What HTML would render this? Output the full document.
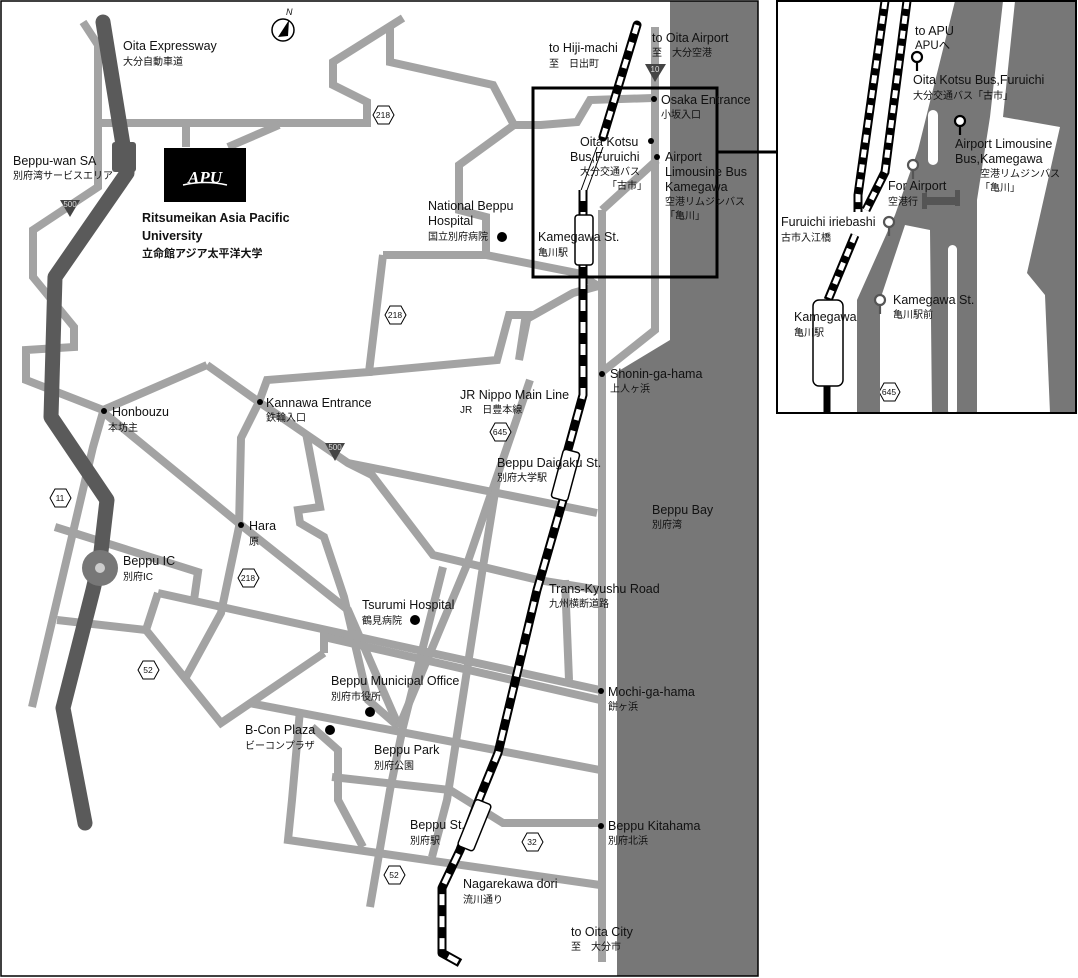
<!DOCTYPE html>
<html><head><meta charset="utf-8"><style>
html,body{margin:0;padding:0;background:#fff;}
svg{display:block;}
text{font-family:"Liberation Sans","Noto Sans CJK JP",sans-serif;fill:#111;}
.e{font-size:12.5px;}
.j{font-size:10px;}
</style></head><body>
<svg width="1078" height="978" viewBox="0 0 1078 978" xmlns="http://www.w3.org/2000/svg">
<rect width="1078" height="978" fill="#fff"/>
<polygon points="670,1 758,1 758,976 617,976 617,372 670,340" fill="#777"/>
<g fill="none" stroke="#a3a3a3" stroke-width="8" stroke-linejoin="miter">
<polyline points="83,22 98,45 98,187 33,230 33,277 74,327 74,347 26,350 26,380 103,410"/>
<polyline points="100,123 367,123 367,102 333,85 333,62 403,18"/>
<polyline points="186,123 186,147"/>
<polyline points="279,125 228,147"/>
<polyline points="390,27 390,62 493,85 514,125 541,125 577,122 590,100 653,98"/>
<polyline points="514,125 459,165 459,210 486,217 486,255"/>
<polyline points="383,255 486,255 577,273 600,287"/>
<polyline points="383,255 369,372 267,380 259,402 241,438 239,527 221,613 186,677"/>
<polyline points="369,372 497,360 509,315 528,315 519,360 525,320 573,293 602,285"/>
<polyline points="207,365 103,410"/>
<polyline points="207,365 259,402 348,463 372,475 433,555 538,580 600,590"/>
<polyline points="348,463 597,513"/>
<polyline points="103,412 241,525 348,610 399,727"/>
<polyline points="103,412 93,447 32,707"/>
<polyline points="306,433 320,507 298,510 300,523 324,537 344,597 368,700 399,727"/>
<polyline points="530,380 466,567 399,727"/>
<polyline points="497,480 482,573 447,800 432,857"/>
<polyline points="443,567 403,727 390,790 370,907"/>
<polyline points="565,580 569,680"/>
<polyline points="55,527 198,572 194,600"/>
<polyline points="158,593 600,690"/>
<polyline points="57,620 146,630 158,593"/>
<polyline points="146,630 221,723 324,653"/>
<polyline points="324,653 324,637 600,700"/>
<polyline points="249,703 600,770"/>
<polyline points="312,727 338,750 338,800 363,847"/>
<polyline points="300,710 292,800 288,840 600,885"/>
<polyline points="332,777 450,790 503,823 600,823"/>
<polyline points="602,210 602,962"/>
<polyline points="602,210 657,160"/>
<polyline points="655,27 655,330 602,372"/>
</g>
<g fill="none" stroke="#5a5a5a" stroke-width="15" stroke-linecap="round" stroke-linejoin="round">
<polyline points="103,22 123,145 127,173 55,277 51,417 107,500 100,560 93,590 63,708 85,823"/>
</g>
<rect x="112" y="142" width="24" height="30" fill="#5a5a5a" rx="3"/>
<circle cx="100" cy="568" r="18" fill="#777"/>
<circle cx="100" cy="568" r="5" fill="#ccc"/>
<g fill="none" stroke-linejoin="round">
<polyline points="637,25 603,137" stroke="#000" stroke-width="9" stroke-linecap="round"/>
<polyline points="637,25 603,137" stroke="#fff" stroke-width="5" stroke-dasharray="9 9"/>
<polyline points="597,147 580,193" stroke="#000" stroke-width="1"/>
<polyline points="603,147 586,193" stroke="#000" stroke-width="1"/>
<polyline points="583,190 583,395 567,453 563,500 537,590 498,753 480,797 460,850 442,888 442,953 460,963" stroke="#000" stroke-width="9"/>
<polyline points="583,190 583,395 567,453 563,500 537,590 498,753 480,797 460,850 442,888 442,953 460,963" stroke="#fff" stroke-width="5" stroke-dasharray="11 11"/>
</g>
<rect x="575" y="215" width="18" height="50" rx="3" fill="#fff" stroke="#000" stroke-width="1.5"/>
<rect x="557" y="450" width="17" height="50" rx="3" fill="#fff" stroke="#000" stroke-width="1.5" transform="rotate(15 565 475)"/>
<rect x="466" y="800" width="17" height="50" rx="3" fill="#fff" stroke="#000" stroke-width="1.5" transform="rotate(22 474 825)"/>
<rect x="533" y="88" width="184" height="189" fill="none" stroke="#000" stroke-width="3"/>
<line x1="717" y1="152" x2="777" y2="152" stroke="#000" stroke-width="3"/>
<rect x="1" y="1" width="757" height="975" fill="none" stroke="#000" stroke-width="1.5"/>
<rect x="164" y="148" width="82" height="54" fill="#000"/>
<text x="205" y="183" text-anchor="middle" style="font-size:17px;font-weight:bold;font-style:italic;fill:#fff;font-family:'Liberation Serif',serif;">APU</text>
<path d="M183 185 Q205 180 227 185" stroke="#fff" stroke-width="1.5" fill="none"/>
<circle cx="283" cy="30" r="11" fill="#fff" stroke="#000" stroke-width="1.5"/>
<polygon points="289,20 278,37 288,36" fill="#000"/>
<text x="286" y="15" style="font-size:9px;font-style:italic;">N</text>
<g fill="#fff" stroke="#000" stroke-width="1">
<polygon points="373,115 378,106 389,106 394,115 389,124 378,124"/>
<polygon points="385,315 390,306 401,306 406,315 401,324 390,324"/>
<polygon points="490,432 495,423 506,423 511,432 506,441 495,441"/>
<polygon points="50,498 55,489 66,489 71,498 66,507 55,507"/>
<polygon points="238,578 243,569 254,569 259,578 254,587 243,587"/>
<polygon points="138,670 143,661 154,661 159,670 154,679 143,679"/>
<polygon points="384,875 389,866 400,866 405,875 400,884 389,884"/>
<polygon points="522,842 527,833 538,833 543,842 538,851 527,851"/>
<polygon points="879,392 884,383 895,383 900,392 895,401 884,401"/>
</g>
<g style="font-size:8.5px;" text-anchor="middle">
<text x="383" y="118">218</text><text x="395" y="318">218</text><text x="500" y="435">645</text>
<text x="60" y="501">11</text><text x="248" y="581">218</text><text x="148" y="673">52</text>
<text x="394" y="878">52</text><text x="532" y="845">32</text><text x="889" y="395">645</text>
</g>
<g fill="#444">
<polygon points="60,200 80,200 70,217"/><polygon points="325,443 345,443 335,461"/><polygon points="645,64 666,64 655,82"/>
</g>
<g style="font-size:8px;" text-anchor="middle"><text x="70" y="207" style="fill:#ddd">500</text><text x="335" y="450" style="fill:#ddd">500</text><text x="655" y="72" style="fill:#ddd">10</text></g>
<g fill="#000">
<circle cx="502" cy="237" r="5"/><circle cx="415" cy="620" r="5"/><circle cx="370" cy="712" r="5"/><circle cx="330" cy="730" r="5"/>
<circle cx="104" cy="411" r="3"/><circle cx="260" cy="402" r="3"/><circle cx="241" cy="525" r="3"/>
<circle cx="654" cy="99" r="3"/><circle cx="651" cy="141" r="3"/><circle cx="657" cy="157" r="3"/>
<circle cx="602" cy="374" r="3"/><circle cx="601" cy="691" r="3"/><circle cx="601" cy="826" r="3"/>
</g>
<text class="e" x="123" y="50">Oita Expressway</text><text class="j" x="123" y="65">大分自動車道</text>
<text class="e" x="13" y="165">Beppu-wan SA</text><text class="j" x="13" y="179">別府湾サービスエリア</text>
<text class="e" x="142" y="222" style="font-weight:bold">Ritsumeikan Asia Pacific</text>
<text class="e" x="142" y="240" style="font-weight:bold">University</text>
<text class="j" x="142" y="257" style="font-weight:bold;font-size:11px">立命館アジア太平洋大学</text>
<text class="e" x="428" y="210">National Beppu</text><text class="e" x="428" y="225">Hospital</text><text class="j" x="428" y="240">国立別府病院</text>
<text class="e" x="549" y="52">to Hiji-machi</text><text class="j" x="549" y="67">至　日出町</text>
<text class="e" x="652" y="42">to Oita Airport</text><text class="j" x="652" y="56">至　大分空港</text>
<text class="e" x="661" y="104">Osaka Entrance</text><text class="j" x="661" y="118">小坂入口</text>
<text class="e" x="580" y="146">Oita Kotsu</text><text class="e" x="570" y="161">Bus,Furuichi</text>
<text class="j" x="580" y="175">大分交通バス</text><text class="j" x="607" y="189">「古市」</text>
<text class="e" x="665" y="161">Airport</text><text class="e" x="665" y="176">Limousine Bus</text><text class="e" x="665" y="191">Kamegawa</text>
<text class="j" x="665" y="205">空港リムジンバス</text><text class="j" x="665" y="219">「亀川」</text>
<text class="e" x="538" y="241">Kamegawa St.</text><text class="j" x="538" y="256">亀川駅</text>
<text class="e" x="610" y="378">Shonin-ga-hama</text><text class="j" x="610" y="392">上人ヶ浜</text>
<text class="e" x="460" y="399">JR Nippo Main Line</text><text class="j" x="460" y="413">JR　日豊本線</text>
<text class="e" x="112" y="416">Honbouzu</text><text class="j" x="108" y="431">本坊主</text>
<text class="e" x="266" y="407">Kannawa Entrance</text><text class="j" x="266" y="421">鉄輪入口</text>
<text class="e" x="497" y="467">Beppu Daigaku St.</text><text class="j" x="497" y="481">別府大学駅</text>
<text class="e" x="652" y="514">Beppu Bay</text><text class="j" x="652" y="528">別府湾</text>
<text class="e" x="249" y="530">Hara</text><text class="j" x="249" y="545">原</text>
<text class="e" x="123" y="565">Beppu IC</text><text class="j" x="123" y="580">別府IC</text>
<text class="e" x="549" y="593">Trans-Kyushu Road</text><text class="j" x="549" y="607">九州横断道路</text>
<text class="e" x="362" y="609">Tsurumi Hospital</text><text class="j" x="362" y="624">鶴見病院</text>
<text class="e" x="331" y="685">Beppu Municipal Office</text><text class="j" x="331" y="700">別府市役所</text>
<text class="e" x="608" y="696">Mochi-ga-hama</text><text class="j" x="608" y="710">餅ヶ浜</text>
<text class="e" x="245" y="734">B-Con Plaza</text><text class="j" x="245" y="749">ビーコンプラザ</text>
<text class="e" x="374" y="754">Beppu Park</text><text class="j" x="374" y="769">別府公園</text>
<text class="e" x="410" y="829">Beppu St.</text><text class="j" x="410" y="844">別府駅</text>
<text class="e" x="608" y="830">Beppu Kitahama</text><text class="j" x="608" y="844">別府北浜</text>
<text class="e" x="463" y="888">Nagarekawa dori</text><text class="j" x="463" y="903">流川通り</text>
<text class="e" x="571" y="936">to Oita City</text><text class="j" x="571" y="950">至　大分市</text>
<g>
<polygon points="1015,1 1076,1 1076,413 1050,413 1045,295 1027,273 1060,127 1003,117" fill="#777"/>
<polygon points="955,1 1003,1 990,117 977,200 977,413 932,413 930,230 905,225 880,300 880,413 857,413 857,300 895,215 918,150" fill="#777"/>
<rect x="928" y="110" width="10" height="55" rx="5" fill="#fff"/>
<rect x="948" y="245" width="9" height="170" rx="4.5" fill="#fff"/>
<g fill="none">
<polyline points="885,1 858,195 858,212" stroke="#000" stroke-width="9"/>
<polyline points="885,1 858,195 858,212" stroke="#fff" stroke-width="5" stroke-dasharray="8 7"/>
<polyline points="907,1 885,172 866,210" stroke="#000" stroke-width="9"/>
<polyline points="907,1 885,172 866,210" stroke="#fff" stroke-width="5" stroke-dasharray="8 7"/>
<polyline points="855,235 828,300" stroke="#000" stroke-width="9"/>
<polyline points="855,235 828,300" stroke="#fff" stroke-width="5" stroke-dasharray="8 7"/>
<polyline points="827,383 827,413" stroke="#000" stroke-width="7"/>
</g>
<rect x="813" y="300" width="30" height="86" rx="6" fill="#fff" stroke="#000" stroke-width="1.5"/>
<rect x="925" y="197" width="34" height="8" fill="#555"/>
<rect x="922" y="193" width="5" height="16" fill="#555"/>
<rect x="955" y="190" width="5" height="16" fill="#555"/>
<g fill="#fff" stroke-width="2.2">
<line x1="917" y1="63" x2="917" y2="71" stroke="#000"/><circle cx="917" cy="57" r="5" stroke="#000"/>
<line x1="960" y1="127" x2="960" y2="135" stroke="#000"/><circle cx="960" cy="121" r="5" stroke="#000"/>
<line x1="913" y1="171" x2="913" y2="179" stroke="#555"/><circle cx="913" cy="165" r="5" stroke="#555"/>
<line x1="889" y1="228" x2="889" y2="236" stroke="#555"/><circle cx="889" cy="222" r="5" stroke="#555"/>
<line x1="880" y1="306" x2="880" y2="314" stroke="#555"/><circle cx="880" cy="300" r="5" stroke="#555"/>
</g>
<text class="e" x="915" y="35">to APU</text><text class="e" x="915" y="49" style="font-size:11.5px">APUへ</text>
<text class="e" x="913" y="84">Oita Kotsu Bus,Furuichi</text><text class="j" x="913" y="99">大分交通バス「古市」</text>
<text class="e" x="955" y="148">Airport Limousine</text><text class="e" x="955" y="163">Bus,Kamegawa</text>
<text class="j" x="980" y="177">空港リムジンバス</text><text class="j" x="980" y="191">「亀川」</text>
<text class="e" x="888" y="190">For Airport</text><text class="j" x="888" y="205">空港行</text>
<text class="e" x="781" y="226">Furuichi iriebashi</text><text class="j" x="781" y="241">古市入江橋</text>
<text class="e" x="893" y="304">Kamegawa St.</text><text class="j" x="893" y="318">亀川駅前</text>
<text class="e" x="794" y="321">Kamegawa</text><text class="j" x="794" y="336">亀川駅</text>
<rect x="777" y="1" width="299" height="412" fill="none" stroke="#000" stroke-width="2"/>
</g>
</svg>
</body></html>
